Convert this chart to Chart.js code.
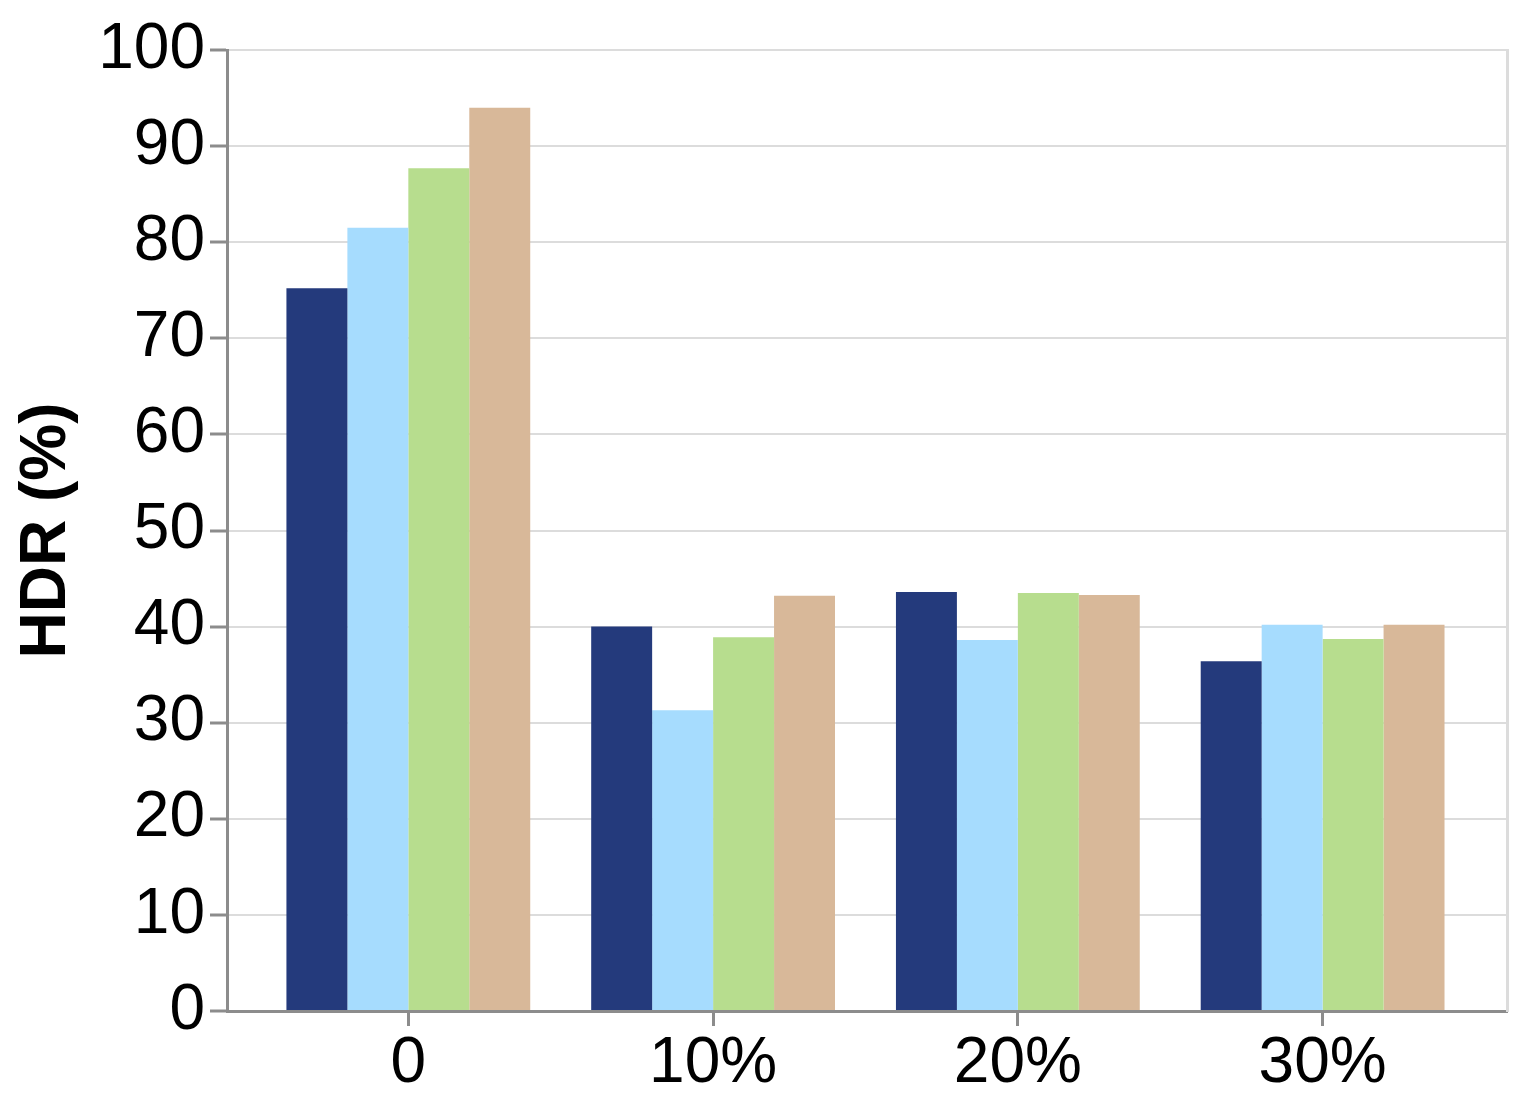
<!DOCTYPE html>
<html>
<head>
<meta charset="utf-8">
<script src="https://cdn.jsdelivr.net/npm/chart.js@4.4.0/dist/chart.umd.min.js"></script>
<style>
  html, body { margin: 0; padding: 0; background: #fff; }
  #wrap { width: 1522px; height: 1112px; }
</style>
</head>
<body>
<div id="wrap"><canvas id="chart" width="1522" height="1112"></canvas></div>
<script>
// categories on the x axis
const categories = ["0", "10%", "20%", "30%"];

// HDR (%) per series
const series1 = [75.2, 40.0, 43.6, 36.4];
const series2 = [81.5, 31.3, 38.6, 40.2];
const series3 = [87.7, 38.9, 43.5, 38.7];
const series4 = [94.0, 43.2, 43.3, 40.2];

const yTicks = [0, 10, 20, 30, 40, 50, 60, 70, 80, 90, 100];

const colors = ["#243a7c", "#a6dcfe", "#b7dd8e", "#d8b899"];
const X_MIN = -0.595;
const X_MAX = 3.605;
const axisGrey = "#8c8c8c";

function toPoints(values) {
  return values.map((v, i) => ({ x: i, y: v }));
}

const datasets = [series1, series2, series3, series4].map((s, i) => ({
  label: "Series " + (i + 1),
  data: toPoints(s),
  backgroundColor: colors[i],
  borderWidth: 0,
  categoryPercentage: 0.8,
  barPercentage: 1.0,
}));

const ctx = document.getElementById("chart");
new Chart(ctx, {
  type: "bar",
  data: { datasets },
  options: {
    responsive: false,
    animation: false,
    layout: { padding: { top: 50, right: 15, left: 0, bottom: 0 } },
    plugins: { legend: { display: false }, tooltip: { enabled: false } },
    scales: {
      x: {
        type: "linear",
        min: X_MIN,
        max: X_MAX,
        offset: false,
        afterBuildTicks: (scale) => {
          scale.ticks = categories.map((c, i) => ({ value: i }));
        },
        afterFit: (scale) => {
          scale.height = 101;
        },
        ticks: {
          callback: (v) => categories[v] ?? "",
          color: "#000",
          padding: 0,
          maxRotation: 0,
          autoSkip: false,
          font: { family: "Liberation Sans", size: 64 },
        },
        grid: {
          offset: false,
          drawOnChartArea: false,
          tickColor: axisGrey,
          tickLength: 15,
          tickWidth: 3,
        },
        border: { display: true, color: axisGrey, width: 3 },
      },
      y: {
        min: 0,
        max: 100,
        afterBuildTicks: (scale) => {
          scale.ticks = yTicks.map((v) => ({ value: v }));
        },
        afterFit: (scale) => {
          scale.width = 227;
        },
        ticks: {
          color: "#000",
          padding: 5,
          font: { family: "Liberation Sans", size: 64 },
        },
        grid: {
          color: "#dcdcdc",
          lineWidth: 2,
          tickColor: axisGrey,
          tickLength: 17,
          tickWidth: 3,
        },
        border: { display: true, color: axisGrey, width: 3 },
        title: {
          display: true,
          text: "HDR (%)",
          color: "#000",
          padding: { top: 9, bottom: 0 },
          font: { family: "Liberation Sans", size: 64, weight: "bold" },
        },
      },
      // right-hand frame line
      yRight: {
        position: "right",
        min: 0,
        max: 100,
        afterFit: (scale) => {
          scale.width = 0;
        },
        ticks: { display: false },
        grid: { drawOnChartArea: false, drawTicks: false },
        border: { display: true, color: "#dcdcdc", width: 3 },
      },
    },
  },
});
</script>
</body>
</html>
